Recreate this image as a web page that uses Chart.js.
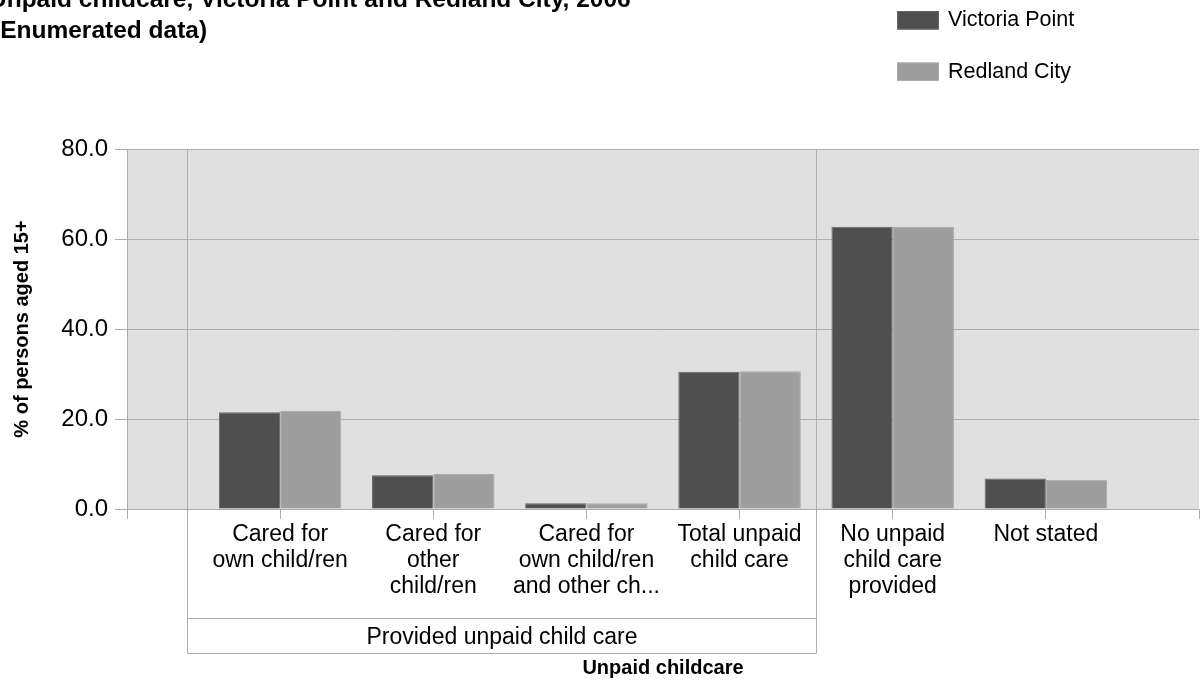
<!DOCTYPE html>
<html><head><meta charset="utf-8">
<script src="https://cdn.jsdelivr.net/npm/chart.js@4.4.1/dist/chart.umd.min.js"></script>
<style>html,body{margin:0;padding:0;background:#fff;overflow:hidden}#c{display:block}</style>
</head><body><canvas id="c" width="1202" height="686"></canvas>
<script>
const titleLines = ['Unpaid childcare, Victoria Point and Redland City, 2006', '(Enumerated data)'];
const categories = ['', ['Cared for', 'own child/ren'], ['Cared for', 'other', 'child/ren'], ['Cared for', 'own child/ren', 'and other ch...'], ['Total unpaid', 'child care'], ['No unpaid', 'child care', 'provided'], ['Not stated'], ''];
const seriesNames = ['Victoria Point', 'Redland City'];
const victoriaPoint = [null, 21.5, 7.5, 1.3, 30.5, 62.7, 6.8, null];
const redlandCity = [null, 21.8, 7.8, 1.3, 30.6, 62.7, 6.5, null];
const yTickValues = [0, 20, 40, 60, 80];
const groupLabel = 'Provided unpaid child care';
const yTitle = '% of persons aged 15+';
const xTitle = 'Unpaid childcare';

const FONT = "'Liberation Sans', Arial, sans-serif";
const GRID = '#adadad';

const decorPlugin = {
  id: 'decor',
  beforeDraw(chart) {
    const {ctx, chartArea: a} = chart;
    ctx.save();
    ctx.fillStyle = '#e0e0e0';
    ctx.fillRect(a.left, a.top, a.right - a.left, a.bottom - a.top);
    ctx.restore();
  },
  beforeDatasetsDraw(chart) {
    const {ctx, chartArea: a, scales: {x}} = chart;
    const gx1 = Math.round(x.getPixelForValue(0.395)) + 0.5;
    const gx2 = Math.round(x.getPixelForValue(4.5)) + 0.5;
    const yMid = 618.5, yBot = 653.5;
    ctx.save();
    ctx.strokeStyle = GRID;
    ctx.lineWidth = 1;
    ctx.beginPath();
    ctx.moveTo(gx1, a.top); ctx.lineTo(gx1, yBot);
    ctx.moveTo(gx2, a.top); ctx.lineTo(gx2, yBot);
    ctx.moveTo(gx1, yMid); ctx.lineTo(gx2, yMid);
    ctx.moveTo(gx1, yBot); ctx.lineTo(gx2, yBot);
    ctx.stroke();
    ctx.fillStyle = '#000';
    ctx.font = '23px ' + FONT;
    ctx.textAlign = 'center';
    ctx.textBaseline = 'middle';
    ctx.fillText(groupLabel, (gx1 + gx2) / 2, 637.5);
    ctx.restore();
  },
  afterDraw(chart) {
    const {ctx} = chart;
    ctx.save();
    // title (clipped at the top-left like the reference)
    ctx.fillStyle = '#000';
    ctx.font = 'bold 24.5px ' + FONT;
    ctx.textAlign = 'left';
    ctx.textBaseline = 'alphabetic';
    ctx.fillText(titleLines[0], -11, 7);
    ctx.fillText(titleLines[1], -8, 38);
    // legend
    ctx.font = '21.5px ' + FONT;
    ctx.textBaseline = 'middle';
    chart.data.datasets.forEach((ds, i) => {
      const y = 11 + i * 51.5;
      ctx.fillStyle = ds.backgroundColor;
      ctx.fillRect(897, y, 42, 18.5);
      ctx.strokeStyle = ds.borderColor;
      ctx.strokeRect(897.5, y + 0.5, 41, 17.5);
      ctx.fillStyle = '#000';
      ctx.fillText(ds.label, 948, y + 9.5);
    });
    ctx.restore();
  }
};

new Chart(document.getElementById('c'), {
  type: 'bar',
  data: {
    labels: categories,
    datasets: [
      {label: seriesNames[0], data: victoriaPoint, backgroundColor: '#4f4f4f', borderColor: '#666666', borderWidth: 1},
      {label: seriesNames[1], data: redlandCity, backgroundColor: '#9e9e9e', borderColor: '#ababab', borderWidth: 1}
    ]
  },
  options: {
    responsive: false,
    maintainAspectRatio: false,
    devicePixelRatio: 1,
    animation: false,
    layout: {padding: {top: 149, left: 0, right: 0, bottom: 0}},
    datasets: {bar: {categoryPercentage: 0.8, barPercentage: 1.0}},
    plugins: {legend: {display: false}, title: {display: false}, tooltip: {enabled: false}},
    scales: {
      x: {
        type: 'category',
        offset: false,
        grid: {offset: false, drawOnChartArea: false, drawTicks: true, tickLength: 10, color: GRID},
        border: {display: true, color: GRID},
        ticks: {color: '#000', font: {family: FONT, size: 23, lineHeight: 1.13}, padding: 3, maxRotation: 0, autoSkip: false},
        title: {display: true, text: xTitle, color: '#000', font: {family: FONT, size: 20, weight: 'bold', lineHeight: 1.2}, padding: {top: 0, bottom: 6}},
        afterFit(s) { s.height = 177; }
      },
      y: {
        min: 0, max: 80,
        afterBuildTicks(s) { s.ticks = yTickValues.map(v => ({value: v})); },
        grid: {color: GRID, tickLength: 12},
        border: {display: true, color: GRID},
        ticks: {color: '#000', font: {family: FONT, size: 24}, padding: 7, callback: v => Number(v).toFixed(1)},
        title: {display: true, text: yTitle, color: '#000', font: {family: FONT, size: 20, weight: 'bold', lineHeight: 1.2}, padding: {top: 10, bottom: 0}},
        afterFit(s) { s.width = 127; }
      }
    }
  },
  plugins: [decorPlugin]
});
</script>
</body></html>
